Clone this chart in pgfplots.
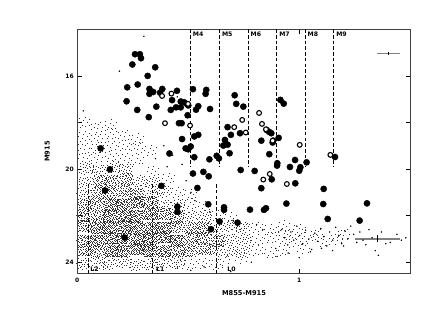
\documentclass[border=0pt]{standalone}
\usepackage{fontspec}
\setmainfont{DejaVu Sans}
\usepackage{pgfplots}
\pgfplotsset{compat=1.18}
% stipple marks: one binned cell of the faint sources, drawn as scattered 1-pixel dots
\def\dotsZ{-6.0/4.5,-2.5/-3.8,0.8/6.5,3.0/-0.8,6.2/3.0,-4.5/-6.8,1.5/-6.0,-0.8/1.5,5.6/-4.8,-7.0/-0.8}
\def\dotsA{-7.2/3.1,-5.4/-6.3,-3.1/5.7,-1.8/-2.4,0.6/7.4,2.3/-5.1,4.9/1.8,6.8/-3.7,-6.1/-1.2,-4.2/1.1,-0.7/3.6,1.5/0.4,3.4/5.2,5.6/6.6,7.3/2.9,-2.6/-7.1,0.2/-4.6,3.9/-2.2,6.1/-6.9,-7.7/-4.5,-3.8/-4.0,-1.2/1.0,2.7/2.8,7.6/-0.8}
\def\dotsB{-6.6/6.7,-4.9/4.0,-2.1/7.2,-0.3/5.4,1.9/6.1,4.2/7.7,6.3/4.6,-7.4/0.6,-5.2/-3.1,-2.9/-0.6,0.9/-1.3,2.8/-0.2,5.2/-0.9,7.0/-5.4,-6.3/-7.4,-4.4/-5.6,-1.6/-5.8,1.1/-7.3,3.2/-6.4,4.8/-4.3,-3.4/3.0,-1.0/-3.6,1.8/-3.2,6.0/0.9}
\def\dotsC{-7.8/5.0,-5.7/2.2,-4.0/6.9,-2.2/4.6,-0.9/6.6,1.2/4.4,2.6/7.0,4.6/3.9,6.9/7.1,-6.9/-2.9,-5.0/-0.4,-3.3/-2.5,-0.2/-0.7,2.1/-1.8,3.6/0.7,5.9/-2.3,7.5/-2.6,-7.0/-6.0,-3.6/-6.6,-0.5/-6.9,2.0/-5.9,4.3/-7.0,5.5/-5.8,0.5/2.1}
\newcommand\stip[1]{\foreach \a/\b in #1 {\pgfpathrectangle{\pgfpoint{\a bp}{\b bp}}{\pgfpoint{1.15bp}{1.15bp}}\pgfusepathqfill}}
\pgfdeclareplotmark{stipZ}{\stip{\dotsZ}}
\pgfdeclareplotmark{stipA}{\stip{\dotsA}}
\pgfdeclareplotmark{stipM}{\stip{\dotsA}\stip{\dotsB}}
\pgfdeclareplotmark{stipD}{\stip{\dotsA}\stip{\dotsB}\stip{\dotsC}}
\pgfplotsset{cellA/.style={only marks,forget plot,mark options={fill=black!80,xscale=0.87,yscale=0.76}},
 cellB/.style={only marks,forget plot,mark options={fill=black!80,xscale=0.87,yscale=0.76,rotate=180}}}
\begin{document}
\begin{tikzpicture}[x=1bp,y=1bp]
\path[use as bounding box] (-77.3bp,-53.3bp) rectangle (345.7bp,273.7bp);
\begin{axis}[at={(0bp,0bp)},anchor=south west,scale only axis,width=333.4bp,height=244.4bp,
 xmin=0,xmax=1.502,ymin=14,ymax=24.49,y dir=reverse,
 xtick={0,1},xticklabels={0,1},ytick={16,18,20,22,24},yticklabels={16,,20,,24},
 tick align=inside,major tick length=5bp,tick style={black,line width=0.4pt},
 axis line style={line width=0.6pt,black!75},
 tick label style={font=\fontsize{6}{7}\selectfont\bfseries},
 /pgf/number format/assume math mode=true,
 xticklabel style={yshift=-1bp},
 xlabel={M855-M915},ylabel={M915},
 label style={font=\fontsize{6.7}{8}\selectfont\bfseries},
 xlabel style={yshift=-1bp},ylabel style={yshift=9bp},
 clip=true]
% binned density of the faint sources
\addplot[cellA,mark=stipZ] coordinates {
(0.03,18.0)(0.15,18.1)(0.03,18.6)(0.15,18.5)(0.27,18.7)(0.09,19.1)(0.21,19.0)(0.33,19.2)(0.03,19.55)(0.15,19.45)(0.27,19.6)
(0.34,20.1)(0.41,20.4)(0.45,21.0)(0.51,21.1)(0.51,21.5)(0.57,21.6)(0.63,22.0)(0.69,22.1)
(0.81,22.5)(0.87,22.6)(0.93,22.45)(1.00,22.6)(0.93,23.0)(0.99,23.1)(1.05,22.9)(1.11,23.1)(0.81,23.5)(0.87,23.6)(0.93,23.5)(0.51,24.1)(0.57,24.05)(0.63,24.1)};
\addplot[cellB,mark=stipZ] coordinates {
(0.09,18.2)(0.09,18.7)(0.21,18.55)(0.03,19.1)(0.15,19.0)(0.27,19.1)(0.09,19.5)(0.21,19.55)
(0.96,22.8)(1.08,22.8)(1.17,23.0)(0.74,23.8)(1.2,22.8)(1.02,23.4)(0.66,23.9)};
\addplot[cellA,mark=stipZ] coordinates {(0.87,22.95)(0.81,23.05)};
\addplot[cellA,mark=stipA] coordinates {
(0.04,20.0)(0.16,19.95)(0.28,20.55)(0.34,20.6)(0.33,21.1)(0.45,21.55)(0.57,22.05)(0.69,22.45)(0.75,23.05)(0.69,23.55)
(0.09,24.1)(0.21,24.0)(0.33,24.1)(0.45,24.05)};
\addplot[cellB,mark=stipA] coordinates {
(0.10,20.05)(0.22,20.0)(0.04,20.55)(0.03,21.05)(0.39,20.95)(0.39,21.55)(0.51,22.0)(0.63,22.55)(0.75,22.5)(0.69,23.0)(0.63,23.45)(0.75,23.55)
(0.03,24.05)(0.15,24.05)(0.27,24.1)(0.39,24.0)};
\addplot[cellA,mark=stipM] coordinates {
(0.10,20.55)(0.22,20.45)(0.09,21.05)(0.21,20.95)(0.03,21.55)(0.33,21.45)(0.09,22.05)(0.39,21.95)(0.03,22.45)(0.51,22.55)(0.51,23.0)(0.63,23.1)(0.03,23.5)(0.45,23.55)(0.57,23.45)};
\addplot[cellB,mark=stipM] coordinates {
(0.16,20.5)(0.15,21.0)(0.27,21.05)(0.09,21.5)(0.03,22.0)(0.45,22.05)(0.45,22.45)(0.57,22.5)(0.03,23.05)(0.57,22.95)(0.09,23.55)(0.51,23.5)};
\addplot[cellA,mark=stipD] coordinates {
(0.15,21.55)(0.27,21.45)(0.21,22.05)(0.33,21.95)(0.09,22.55)(0.21,22.45)(0.33,22.55)(0.15,23.0)(0.27,23.05)(0.39,22.95)(0.15,23.55)(0.27,23.45)(0.39,23.55)};
\addplot[cellB,mark=stipD] coordinates {
(0.21,21.5)(0.15,22.0)(0.27,22.0)(0.15,22.5)(0.27,22.5)(0.39,22.5)(0.09,23.05)(0.21,22.95)(0.33,23.0)(0.45,23.05)(0.21,23.5)(0.33,23.5)};
% individually read faint sources
\addplot[only marks,mark=*,mark size=0.5bp,mark options={draw=none,fill=black},forget plot] coordinates {
(0.30,14.3)(0.190,15.8)(0.45,16.9)(0.027,17.5)(0.39,19.0)(0.43,19.4)(0.352,19.55)(0.405,19.9)(0.472,19.8)(0.49,20.5)(0.512,21.0)(0.53,21.35)(0.598,21.85)(0.702,22.2)
(0.808,22.38)(0.836,22.6)(0.907,22.7)(0.894,23.4)(0.784,24.0)(0.691,24.4)(0.571,24.2)(0.451,24.25)(0.361,24.3)(0.511,24.35)
(0.921,22.6)(0.935,22.95)(0.948,23.25)(0.962,22.7)(0.975,23.05)(0.989,22.45)(1.002,22.85)(1.016,23.2)(1.029,22.62)(1.043,23.0)(1.056,23.45)(1.07,22.75)(1.083,23.1)(1.097,22.55)(1.11,22.9)(1.124,23.3)(1.137,22.7)(1.151,23.05)(1.164,22.5)(1.178,22.85)(1.191,23.2)(1.205,22.65)(1.218,23.0)(1.232,22.45)(1.245,22.8)(1.259,23.15)(1.273,22.7)(1.287,23.05)(1.3,23.25)(1.314,22.6)(1.328,22.95)(1.342,23.5)(1.356,23.7)(1.37,22.7)(1.39,23.2)(1.41,23.15)(1.44,22.8)(1.46,23.05)(1.48,22.95)(0.9,23.75)(0.95,23.6)(1.0,23.8)(1.05,23.55)(1.1,23.4)(1.15,23.5)(1.2,23.3)
};
% bright sources, filled
\addplot[only marks,mark=*,mark size=3.1bp,mark options={draw=none,fill=black},forget plot] coordinates {
(0.260,15.07)(0.282,15.07)(0.287,15.24)(0.248,15.51)(0.351,15.63)(0.317,16.00)(0.272,16.37)(0.225,16.49)(0.325,16.56)(0.383,16.56)(0.449,16.64)(0.521,16.57)(0.581,16.60)(0.578,16.77)(0.325,16.77)(0.342,16.69)(0.373,16.72)(0.427,17.04)(0.222,17.09)(0.466,17.10)(0.481,17.13)(0.493,17.20)(0.500,17.27)(0.445,17.35)(0.466,17.35)(0.421,17.46)(0.270,17.46)(0.356,17.32)(0.545,17.30)(0.535,17.45)(0.598,17.42)(0.497,17.69)(0.322,17.77)(0.458,18.03)(0.470,18.03)(0.472,18.71)(0.527,18.60)(0.545,18.53)(0.488,19.11)(0.511,19.03)(0.500,19.15)(0.415,19.33)(0.527,19.49)(0.595,19.58)(0.628,19.43)(0.638,19.54)(0.105,19.11)
(0.709,16.83)(0.716,17.20)(0.677,18.20)(0.692,18.53)(0.665,18.75)(0.658,18.99)(0.677,18.95)(0.686,19.32)(0.733,18.46)(0.748,17.32)
(0.915,17.03)(0.930,17.19)(0.853,18.32)(0.864,18.40)(0.874,18.46)(0.907,18.66)(0.829,18.78)(0.883,18.78)(0.880,18.86)(0.865,19.36)(0.981,19.61)(1.161,19.48)
(0.147,20.01)(0.125,20.92)(0.213,22.94)(0.521,20.19)(0.568,20.12)(0.592,20.31)(0.379,20.72)(0.541,20.81)(0.451,21.61)(0.451,21.83)(0.590,21.51)(0.661,21.64)(0.661,21.75)(0.641,22.25)(0.722,22.30)(0.602,22.58)
(0.901,19.75)(0.900,19.85)(1.033,19.71)(0.958,19.91)(1.005,19.92)(1.000,20.07)(0.736,20.04)(0.799,20.08)(0.876,20.44)(0.982,20.61)(0.829,20.82)(1.110,20.85)(0.942,21.48)(1.108,21.50)(1.305,21.47)(0.778,21.74)(0.850,21.68)(0.841,21.75)(1.128,22.14)(1.272,22.21)};
% bright sources, open
\addplot[only marks,mark=*,mark size=2.4bp,mark options={draw=black,line width=1.1bp,fill=white},forget plot] coordinates {
(0.424,16.76)(0.382,16.86)(0.499,17.20)(0.395,18.03)(0.508,18.13)(0.707,18.20)(0.819,17.59)(0.743,17.89)(0.832,18.06)(0.759,18.43)(0.850,18.29)(0.880,18.78)(1.002,18.96)(1.140,19.39)(0.867,20.21)(0.838,20.45)(0.944,20.64)};
% spectral-type boundaries
\pgfplotsinvokeforeach{0.509,0.640,0.769,0.898,1.026,1.155}{
\addplot[black,line width=0.6pt,dash pattern=on 3.5bp off 2.2bp,forget plot] coordinates {(#1,14)(#1,19.9)};}
\pgfplotsinvokeforeach{0.05,0.338,0.626}{
\addplot[black,line width=0.6pt,dash pattern=on 3.5bp off 2.2bp,forget plot] coordinates {(#1,20.65)(#1,24.49)};}
% typical error bars
\addplot[black!50,line width=0.9pt,forget plot] coordinates {(1.350,15.04)(1.454,15.04)};
\addplot[black,line width=0.5pt,forget plot] coordinates {(1.401,14.97)(1.401,15.11)};
\addplot[black!50,line width=1.1pt,forget plot] coordinates {(1.251,23.0)(1.454,23.0)};
\addplot[black,line width=0.5pt,forget plot] coordinates {(1.351,22.85)(1.351,23.15)};
% labels
\begin{scope}[every node/.style={font=\fontsize{6.2}{7}\selectfont\bfseries,anchor=west,inner sep=0pt}]
\node at (axis cs:0.52,14.21) {M4};\node at (axis cs:0.651,14.21) {M5};\node at (axis cs:0.78,14.21) {M6};
\node at (axis cs:0.909,14.21) {M7};\node at (axis cs:1.037,14.21) {M8};\node at (axis cs:1.166,14.21) {M9};
\node at (axis cs:0.058,24.28) {L2};\node at (axis cs:0.354,24.28) {L1};\node at (axis cs:0.675,24.28) {L0};
\end{scope}
\end{axis}
\end{tikzpicture}
\end{document}
